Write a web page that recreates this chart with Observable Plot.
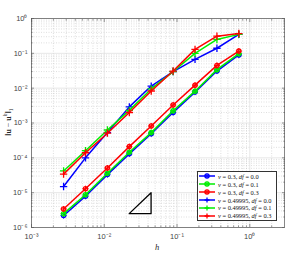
<!DOCTYPE html>
<html><head><meta charset="utf-8">
<script src="https://cdn.jsdelivr.net/npm/d3@7"></script>
<script src="https://cdn.jsdelivr.net/npm/@observablehq/plot@0.6"></script>
<style>
body{margin:0;background:#fff;}
#wrap{position:relative;width:293px;height:255px;}
#legend{position:absolute;left:197px;top:171px;width:78px;height:48px;border:1.3px solid #333;background:#fff;font-family:"Liberation Serif",serif;font-size:6.4px;color:#111;}
.row{position:absolute;left:1px;height:8px;display:flex;align-items:center;white-space:nowrap;}
.row svg{margin-right:3px;}
#ylab{position:absolute;left:-22px;top:116px;width:60px;text-align:center;transform:rotate(-90deg);font-family:"Liberation Serif",serif;font-size:8px;color:#262626;}
#xlab{position:absolute;left:150px;top:242px;width:14px;text-align:center;font-family:"Liberation Serif",serif;font-style:italic;font-size:8.5px;color:#262626;}
</style></head>
<body><div id="wrap"></div>
<script>
const h = [0.00276, 0.00552, 0.01105, 0.0221, 0.0442, 0.0884, 0.1768, 0.3536, 0.7071];
const nu03_df00 = [2.2e-6, 7.9e-6, 3.3e-5, 1.3e-4, 4.9e-4, 2.0e-3, 7.7e-3, 0.031, 0.090];
const nu03_df01 = [2.5e-6, 8.7e-6, 3.6e-5, 1.45e-4, 5.3e-4, 2.25e-3, 8.2e-3, 0.034, 0.098];
const nu03_df03 = [3.4e-6, 1.3e-5, 5.1e-5, 2.1e-4, 8.2e-4, 3.3e-3, 0.0122, 0.045, 0.116];
const nu49995_df00 = [1.5e-5, 1.0e-4, 5.3e-4, 2.9e-3, 1.15e-2, 0.030, 0.067, 0.14, 0.35];
const nu49995_df01 = [4.2e-5, 1.6e-4, 6.3e-4, 2.3e-3, 9.5e-3, 0.030, 0.10, 0.25, 0.35];
const nu49995_df03 = [3.4e-5, 1.4e-4, 5.1e-4, 2.0e-3, 8.3e-3, 0.031, 0.13, 0.31, 0.37];
const triangle = [[0.022, 2.5e-6], [0.044, 2.5e-6], [0.044, 1e-5], [0.022, 2.5e-6]];
const seriesNames = ["ν = 0.3, df = 0.0","ν = 0.3, df = 0.1","ν = 0.3, df = 0.3","ν = 0.49995, df = 0.0","ν = 0.49995, df = 0.1","ν = 0.49995, df = 0.3"];
const xMajor = [1e-3, 1e-2, 1e-1, 1e0];
const yMajor = [1e-6, 1e-5, 1e-4, 1e-3, 1e-2, 1e-1, 1e0];

const colors = ["#0000ff", "#00ee00", "#ff0000"];
const series = [
  {vals: nu03_df00, c: colors[0], m: "o"}, {vals: nu03_df01, c: colors[1], m: "o"}, {vals: nu03_df03, c: colors[2], m: "o"},
  {vals: nu49995_df00, c: colors[0], m: "+"}, {vals: nu49995_df01, c: colors[1], m: "+"}, {vals: nu49995_df03, c: colors[2], m: "+"}
];
const minorOf = (majors, lo, hi) => {
  const out = [];
  for (const m of majors) for (let k = 2; k <= 9; k++) { const v = m * k; if (v > lo && v < hi) out.push(v); }
  return out;
};
const xMinor = minorOf([1e-3, 1e-2, 1e-1, 1e0], 1e-3, 3);
const yMinor = minorOf([1e-6, 1e-5, 1e-4, 1e-3, 1e-2, 1e-1], 1e-6, 1);
const supMap = {"-":"⁻","0":"⁰","1":"¹","2":"²","3":"³","4":"⁴","5":"⁵","6":"⁶","7":"⁷","8":"⁸","9":"⁹"};
const fmt = d => "10" + String(Math.round(Math.log10(d))).split("").map(c => supMap[c]).join("");
const blank = () => "";
const ax = {stroke: "#555", strokeWidth: 0.6, tickFormat: blank, label: null};

const marks = [
  Plot.gridX({ticks: xMinor, stroke: "#bbb", strokeOpacity: 0.8, strokeDasharray: "1,1.5", strokeWidth: 0.6}),
  Plot.gridY({ticks: yMinor, stroke: "#bbb", strokeOpacity: 0.8, strokeDasharray: "1,1.5", strokeWidth: 0.6}),
  Plot.gridX({ticks: xMajor, stroke: "#ddd", strokeOpacity: 1, strokeWidth: 0.7}),
  Plot.gridY({ticks: yMajor, stroke: "#ddd", strokeOpacity: 1, strokeWidth: 0.7}),
  Plot.frame({stroke: "#555", strokeWidth: 0.7}),
  Plot.axisX({...ax, anchor: "bottom", ticks: xMajor, tickSize: -3}),
  Plot.axisX({...ax, anchor: "top", ticks: xMajor, tickSize: -3}),
  Plot.axisX({...ax, anchor: "bottom", ticks: xMinor, tickSize: -1.6}),
  Plot.axisX({...ax, anchor: "top", ticks: xMinor, tickSize: -1.6}),
  Plot.axisY({...ax, anchor: "left", ticks: yMajor, tickSize: -3}),
  Plot.axisY({...ax, anchor: "right", ticks: yMajor, tickSize: -3}),
  Plot.axisY({...ax, anchor: "left", ticks: yMinor, tickSize: -1.6}),
  Plot.axisY({...ax, anchor: "right", ticks: yMinor, tickSize: -1.6}),
  Plot.axisX({anchor: "bottom", ticks: xMajor, tickSize: 0, tickPadding: 6, tickFormat: fmt, fontSize: 7.5, fill: "#444", label: null}),
  Plot.axisY({anchor: "left", ticks: yMajor, tickSize: 0, tickPadding: 4, tickFormat: fmt, fontSize: 7.5, fill: "#444", label: null}),
  Plot.line(triangle, {x: d => d[0], y: d => d[1], stroke: "#000", strokeWidth: 1.3})
];
for (const s of series) {
  const data = h.map((x, i) => ({x, y: s.vals[i]}));
  marks.push(Plot.line(data, {x: "x", y: "y", stroke: s.c, strokeWidth: 1.5}));
  if (s.m === "o") {
    marks.push(Plot.dot(data, {x: "x", y: "y", r: 2.1, stroke: s.c, strokeWidth: 1.3, fill: "none"}));
    marks.push(Plot.dot(data, {x: "x", y: "y", r: 2.1, symbol: "plus", stroke: s.c, strokeWidth: 1}));
  } else {
    marks.push(Plot.dot(data, {x: "x", y: "y", r: 2.5, symbol: "plus", stroke: s.c, strokeWidth: 1.3}));
  }
}

const chart = Plot.plot({
  width: 293, height: 255,
  marginLeft: 31, marginRight: 9, marginTop: 18, marginBottom: 28,
  x: {type: "log", domain: [1e-3, 3], axis: null},
  y: {type: "log", domain: [1e-6, 1], axis: null},
  style: {fontFamily: "'Liberation Sans', Arial, sans-serif", background: "#fff"},
  marks
});
const wrap = document.getElementById("wrap");
wrap.appendChild(chart);

// legend
const leg = document.createElement("div");
leg.id = "legend";
series.forEach((s, i) => {
  const row = document.createElement("div");
  row.className = "row";
  row.style.top = (0.3 + i * 7.9) + "px";
  const mk = s.m === "o"
    ? `<circle cx="8" cy="4" r="2.1" fill="none" stroke="${s.c}" stroke-width="1.3"/><path d="M5.9,4H10.1M8,1.9V6.1" stroke="${s.c}" stroke-width="1"/>`
    : `<path d="M5.5,4H10.5M8,1.5V6.5" stroke="${s.c}" stroke-width="1.3"/>`;
  row.innerHTML = `<svg width="16" height="8"><line x1="0" y1="4" x2="16" y2="4" stroke="${s.c}" stroke-width="1.5"/>${mk}</svg><span>${seriesNames[i].replace("ν", "<i>ν</i>").replace("df", "<i>df</i>")}</span>`;
  leg.appendChild(row);
});
wrap.appendChild(leg);

const yl = document.createElement("div");
yl.id = "ylab";
yl.innerHTML = "‖<b>u</b> − <b>u</b><sup style='font-size:5.5px'><i>h</i></sup>‖<sub style='font-size:5.5px'>1</sub>";
wrap.appendChild(yl);
const xl = document.createElement("div");
xl.id = "xlab";
xl.textContent = "h";
wrap.appendChild(xl);
</script>
</body></html>
